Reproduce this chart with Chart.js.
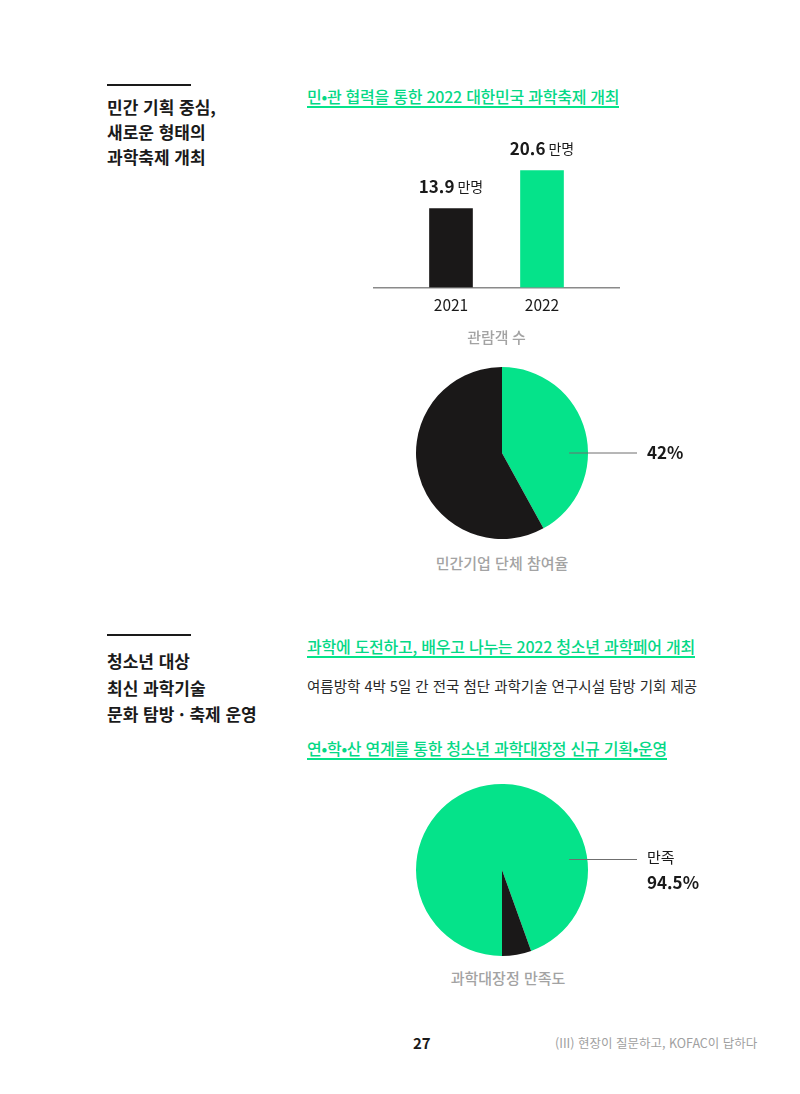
<!DOCTYPE html>
<html lang="ko">
<head>
<meta charset="utf-8">
<script src="https://cdn.jsdelivr.net/npm/chart.js@4/dist/chart.umd.min.js"></script>
<style>
  body { margin: 0; background: #fff; font-family: "Noto Sans CJK KR", "Noto Sans", sans-serif; color: #1a1a1a; }
  #page { position: relative; width: 800px; height: 1094px; overflow: hidden; }
  .rule { position: absolute; left: 107px; width: 84px; height: 2px; background: #1a1a1a; }
  .side { position: absolute; left: 107px; font-size: 17px; font-weight: 700; }
  .head { position: absolute; left: 307px; font-size: 16px; font-weight: 500; color: #05d886; line-height: 20px; border-bottom: 2px solid #05e38a; white-space: nowrap; letter-spacing: -0.25px; }
  .sub { position: absolute; left: 307px; font-size: 14.5px; color: #2a2a2a; line-height: 20px; white-space: nowrap; }
  .cap { position: absolute; width: 200px; text-align: center; font-size: 15px; font-weight: 500; color: #a3a3a3; line-height: 20px; }
  .box { position: absolute; }
</style>
</head>
<body>
<div id="page">
  <div class="rule" style="top:84px"></div>
  <div class="side" style="top:94px; line-height:25px">민간 기획 중심,<br>새로운 형태의<br>과학축제 개최</div>
  <div class="head" style="top:86px">민•관 협력을 통한 2022 대한민국 과학축제 개최</div>

  <div class="box" style="left:373px; top:131px"><canvas id="visitorChart" width="247" height="215"></canvas></div>
  <div class="box" style="left:416px; top:367px"><canvas id="companyChart" width="300" height="172"></canvas></div>
  <div class="cap" style="left:402px; top:553px">민간기업 단체 참여율</div>

  <div class="rule" style="top:634px"></div>
  <div class="side" style="top:648px; line-height:26.5px">청소년 대상<br>최신 과학기술<br>문화 탐방 · 축제 운영</div>
  <div class="head" style="top:636px">과학에 도전하고, 배우고 나누는 2022 청소년 과학페어 개최</div>
  <div class="sub" style="top:676px">여름방학 4박 5일 간 전국 첨단 과학기술 연구시설 탐방 기회 제공</div>
  <div class="head" style="top:738px">연•학•산 연계를 통한 청소년 과학대장정 신규 기획•운영</div>

  <div class="box" style="left:416px; top:784px"><canvas id="satisfyChart" width="300" height="172"></canvas></div>
  <div class="cap" style="left:408px; top:968px">과학대장정 만족도</div>

  <div style="position:absolute; left:413px; top:1033px; font-size:15px; font-weight:700; line-height:20px">27</div>
  <div style="position:absolute; left:555px; top:1034px; font-size:12.5px; color:#a0a0a0; line-height:18px; white-space:nowrap">(III) 현장이 질문하고, KOFAC이 답하다</div>
</div>

<script>
// 관람객 수 (만명)
const years = [2021, 2022];
const visitors = [13.9, 20.6];
const visitorUnit = "만명";

// 민간기업 단체 참여율 (%)
const companyLabels = ["민간기업 단체", "기타"];
const companyShare = [42, 58];

// 과학대장정 만족도 (%)
const satisfyLabels = ["만족", "기타"];
const satisfyShare = [94.5, 5.5];

const GREEN = "#05e38a";
const BLACK = "#1a1818";
const FONT = '"Noto Sans CJK KR", "Noto Sans", sans-serif';

// 막대 위 값 라벨
const barValuePlugin = {
  id: "barValue",
  afterDatasetsDraw(chart) {
    const ctx = chart.ctx;
    const meta = chart.getDatasetMeta(0);
    meta.data.forEach((bar, i) => {
      const num = String(visitors[i]);
      ctx.save();
      ctx.textBaseline = "middle";
      ctx.font = "700 17px " + FONT;
      const w1 = ctx.measureText(num).width;
      ctx.font = "400 14px " + FONT;
      const w2 = ctx.measureText(visitorUnit).width;
      const gap = 3;
      let x = bar.x - (w1 + gap + w2) / 2;
      const y = bar.y - 22;
      ctx.fillStyle = "#1a1a1a";
      ctx.font = "700 17px " + FONT;
      ctx.fillText(num, x, y);
      ctx.font = "400 14px " + FONT;
      ctx.fillText(visitorUnit, x + w1 + gap, y);
      ctx.restore();
    });
  },
};

// 파이 차트 지시선 + 라벨
const pieLeaderPlugin = {
  id: "pieLeader",
  afterDatasetsDraw(chart, args, opts) {
    const ctx = chart.ctx;
    const arc = chart.getDatasetMeta(0).data[0];
    const r = arc.outerRadius;
    const lines = opts.lines;
    const lh = 25;
    const top = arc.y - ((lines.length - 1) * lh) / 2;
    const lineY = top + (opts.lineShift || 0);
    ctx.save();
    ctx.strokeStyle = "#6f6f6f";
    ctx.lineWidth = 1;
    ctx.beginPath();
    ctx.moveTo(arc.x + r * 0.78, lineY);
    ctx.lineTo(arc.x + r + 49, lineY);
    ctx.stroke();
    ctx.textBaseline = "middle";
    ctx.fillStyle = "#1a1a1a";
    lines.forEach((ln, i) => {
      ctx.font = ln.font + " " + FONT;
      ctx.fillText(ln.text, arc.x + r + 59, top + i * lh);
    });
    ctx.restore();
  },
};

function renderVisitorChart() {
  const ctx = document.getElementById("visitorChart").getContext("2d");
  new Chart(ctx, {
    type: "bar",
    data: {
      datasets: [
        {
          data: years.map((y, i) => ({ x: y, y: visitors[i] })),
          backgroundColor: [BLACK, GREEN],
          barThickness: 43,
        },
      ],
    },
    options: {
      responsive: false,
      animation: false,
      layout: { padding: 0 },
      plugins: { legend: { display: false }, tooltip: { enabled: false } },
      scales: {
        x: {
          type: "linear",
          offset: false,
          min: 2020.143,
          max: 2022.857,
          afterBuildTicks: (axis) => {
            axis.ticks = years.map((v) => ({ value: v }));
          },
          grid: { display: false, drawTicks: false },
          border: { display: true, color: "#8a8a8a", width: 1.5 },
          ticks: {
            color: "#1a1a1a",
            font: { family: FONT, size: 15.5 },
            padding: 8,
            callback: (v) => String(v),
          },
          title: {
            display: true,
            text: "관람객 수",
            color: "#a3a3a3",
            font: { family: FONT, size: 15, weight: "500" },
            padding: { top: 6, bottom: 0 },
          },
        },
        y: { display: false, min: 0, max: 27.6 },
      },
    },
    plugins: [barValuePlugin],
  });
}

function renderPie(id, labels, values, colors, rotation, lines, lineShift) {
  const ctx = document.getElementById(id).getContext("2d");
  new Chart(ctx, {
    type: "pie",
    data: {
      labels: labels,
      datasets: [{ data: values, backgroundColor: colors, borderWidth: 0 }],
    },
    options: {
      responsive: false,
      animation: false,
      rotation: rotation,
      layout: { padding: { right: 128 } },
      plugins: {
        legend: { display: false },
        tooltip: { enabled: false },
        pieLeader: { lines: lines, lineShift: lineShift },
      },
    },
    plugins: [pieLeaderPlugin],
  });
}

renderVisitorChart();
renderPie("companyChart", companyLabels, companyShare, [GREEN, BLACK], 0,
  [{ text: companyShare[0] + "%", font: "700 17px" }], 0);
renderPie("satisfyChart", satisfyLabels, satisfyShare, [GREEN, BLACK], 180,
  [{ text: satisfyLabels[0], font: "400 15px" }, { text: satisfyShare[0] + "%", font: "700 17px" }], 2);
</script>
</body>
</html>
